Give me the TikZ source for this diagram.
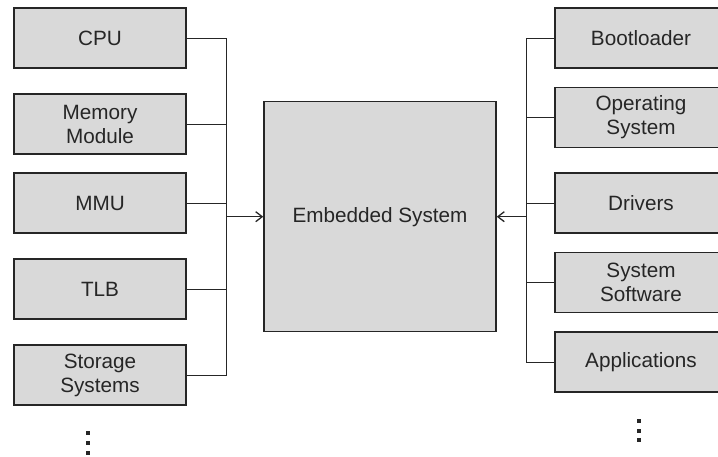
\documentclass[tikz,border=0pt]{standalone}
\usepackage{fontspec}
\setmainfont{Liberation Sans}
\usetikzlibrary{arrows.meta}
\begin{document}
\begin{tikzpicture}[x=1pt,y=-1pt,
  blk/.style={draw=black!85, line width=1.5pt, fill=gray!30!white, minimum width=172pt, minimum height=60pt,
    inner sep=0pt, align=center, font=\fontsize{20.7}{24}\selectfont, text=black!85},
  wire/.style={line width=0.9pt, draw=black!85},
  arr/.style={wire, line width=1.3pt, -{Straight Barb[length=6.5pt,width=10pt,line width=1.3pt]}},
  dot/.style={fill=black!85}]
\useasboundingbox (0,0) rectangle (718,457);
% left column
\node[blk] (cpu) at (100,38) {CPU};
\node[blk] (mem) at (100,124) {Memory\\Module};
\node[blk] (mmu) at (100,203) {MMU};
\node[blk] (tlb) at (100,289) {TLB};
\node[blk] (sto) at (100,375) {Storage\\Systems};
% right column
\node[blk] (boot) at (641,38) {Bootloader};
\node[blk] (os) at (641,117.5) {Operating\\System};
\node[blk] (drv) at (641,203) {Drivers};
\node[blk] (sys) at (641,282.5) {System\\Software};
\node[blk] (app) at (641,362) {Applications};
% center
\node[blk, minimum width=232pt, minimum height=230pt] (emb) at (380,216.7) {Embedded System};
% buses
\coordinate (lb) at (226,216.7);
\coordinate (rb) at (526,216.7);
\draw[wire] (cpu.east) -| (lb |- sto.east) -- (sto.east);
\foreach \n in {mem,mmu,tlb} \draw[wire] (\n.east) -- (lb |- \n.east);
\draw[wire] (boot.west) -| (rb |- app.west) -- (app.west);
\foreach \n in {os,drv,sys} \draw[wire] (\n.west) -- (rb |- \n.west);
\draw[arr] (lb) -- (emb.west);
\draw[arr] (rb) -- (emb.east);
% continuation dots
\foreach \y in {433.3,443,452.7} \fill[dot] (86.2,\y-2.1) rectangle ++(4.2,4.2);
\foreach \y in {421,430.7,440.3} \fill[dot] (636.9,\y-2.1) rectangle ++(4.2,4.2);
\end{tikzpicture}
\end{document}
